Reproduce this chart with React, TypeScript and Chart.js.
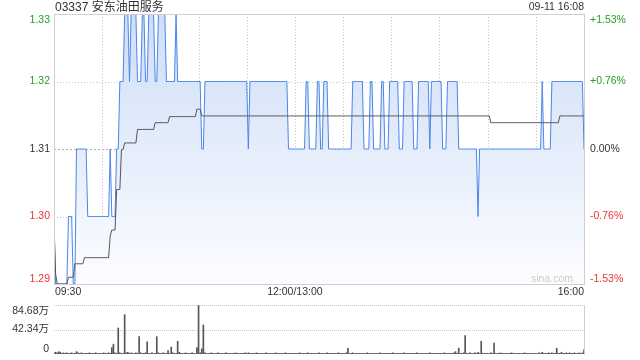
import React, { useEffect, useRef } from "react";
import { Chart, registerables } from "chart.js";

Chart.register(...registerables);

// ---------- data ----------
const titleCode = "03337";
const titleName = "安东油田服务";
const stamp = "09-11 16:08";
const prevClose = 1.31;
const priceMin = 1.29;
const priceMax = 1.33;
const priceTicks = [1.33, 1.32, 1.31, 1.3, 1.29];
const priceTickLabels = ["1.33", "1.32", "1.31", "1.30", "1.29"];
const pctTickLabels = ["+1.53%", "+0.76%", "0.00%", "-0.76%", "-1.53%"];
const timeLabels = ["09:30", "12:00/13:00", "16:00"];
const timeLabelMinutes = [0, 150, 330];
const gridMinutes = [30, 60, 90, 120, 150, 180, 210, 240, 270, 300];
const lastMinute = 330;

// price per minute, as runs of [price, number of minutes]
const priceRuns: [number, number][] = [
  [1.3, 1], [1.29, 8], [1.3, 3], [1.29, 2], [1.31, 7], [1.3, 14], [1.31, 1], [1.3, 3],
  [1.31, 2], [1.32, 3], [1.33, 3], [1.32, 1], [1.33, 4], [1.32, 3], [1.33, 2], [1.32, 2],
  [1.33, 4], [1.32, 2], [1.33, 5], [1.32, 6], [1.33, 1], [1.32, 15], [1.31, 2], [1.32, 27],
  [1.31, 1], [1.32, 24], [1.31, 11], [1.32, 2], [1.31, 5], [1.32, 2], [1.31, 2], [1.32, 3],
  [1.31, 15], [1.32, 7], [1.31, 4], [1.32, 2], [1.31, 5], [1.32, 2], [1.31, 3], [1.32, 6],
  [1.31, 3], [1.32, 6], [1.31, 3], [1.32, 7], [1.31, 1], [1.32, 7], [1.31, 3], [1.32, 7],
  [1.31, 12], [1.3, 1], [1.31, 39], [1.32, 1], [1.31, 5], [1.32, 20], [1.31, 1],
];

// average price per minute, as runs of [avg, number of minutes]
const avgRuns: [number, number][] = [
  [1.2985, 1], [1.2915, 1], [1.29, 7], [1.291, 4], [1.293, 6], [1.2939, 16], [1.2971, 1],
  [1.298, 3], [1.304, 3], [1.3099, 2], [1.3109, 8], [1.3129, 11], [1.3139, 9], [1.3148, 17],
  [1.3159, 3], [1.3149, 180], [1.3139, 43], [1.3149, 16],
];

// volume per minute (万)
const volumes = [
  2, 3, 2, 4, 3, 1, 2, 1, 2, 1,
  1, 2, 1, 1, 4, 2, 1, 2, 1, 1,
  1, 1, 2, 1, 1, 1, 2, 1, 1, 1,
  1, 2, 1, 1, 2, 1, 11, 17, 2, 1,
  45, 2, 1, 1, 68, 2, 3, 1, 2, 1,
  1, 2, 1, 30, 2, 1, 1, 2, 21, 1,
  1, 2, 1, 1, 30, 2, 1, 1, 2, 1,
  1, 6, 1, 12, 2, 1, 1, 22, 3, 1,
  1, 1, 2, 1, 1, 1, 2, 1, 1, 11,
  84.68, 2, 9, 50, 2, 1, 1, 1, 2, 1,
  1, 1, 2, 1, 1, 1, 1, 2, 1, 1,
  1, 1, 1, 2, 1, 1, 1, 1, 1, 2,
  1, 2, 1, 1, 1, 1, 2, 1, 1, 1,
  1, 1, 2, 1, 1, 1, 1, 1, 2, 1,
  1, 1, 1, 1, 2, 1, 1, 1, 1, 1,
  1, 1, 1, 2, 1, 1, 1, 1, 2, 1,
  1, 1, 1, 1, 1, 2, 1, 1, 1, 1,
  2, 1, 1, 1, 1, 1, 1, 2, 1, 1,
  1, 1, 2, 10, 1, 1, 2, 1, 1, 1,
  1, 1, 1, 1, 1, 2, 1, 1, 1, 1,
  1, 1, 1, 2, 1, 1, 1, 1, 1, 1,
  1, 2, 1, 1, 1, 1, 1, 1, 2, 1,
  1, 1, 1, 1, 1, 1, 2, 1, 1, 1,
  1, 1, 1, 1, 2, 1, 1, 1, 1, 1,
  1, 1, 1, 2, 1, 1, 1, 1, 1, 2,
  4, 1, 10, 1, 1, 2, 32, 1, 1, 2,
  1, 1, 2, 1, 3, 1, 22, 1, 1, 1,
  1, 1, 2, 1, 19, 1, 1, 1, 2, 1,
  1, 1, 1, 1, 1, 2, 1, 1, 1, 1,
  1, 1, 1, 2, 1, 1, 1, 1, 1, 1,
  1, 1, 2, 1, 3, 1, 1, 1, 2, 1,
  2, 1, 1, 10, 1, 1, 3, 1, 1, 2,
  1, 2, 1, 1, 2, 1, 1, 2, 1, 2,
  7,
];
const volTicks = [84.68, 42.34, 0];
const volTickLabels = ["84.68万", "42.34万", "0"];

// ---------- helpers ----------
function expandRuns(runs: [number, number][]): number[] {
  const out: number[] = [];
  for (const [v, n] of runs) for (let k = 0; k < n; k++) out.push(v);
  return out;
}

const FONT = "Arial, 'Liberation Sans', 'Noto Sans CJK SC', sans-serif";
const GREEN = "#22a022";
const RED = "#ee3333";
const DARK = "#333333";

function tickColor(p: number) {
  if (p > prevClose + 1e-9) return GREEN;
  if (p < prevClose - 1e-9) return RED;
  return DARK;
}

function hLine(ctx: CanvasRenderingContext2D, x1: number, x2: number, y: number) {
  ctx.beginPath();
  ctx.moveTo(x1, y);
  ctx.lineTo(x2, y);
  ctx.stroke();
}
function vLine(ctx: CanvasRenderingContext2D, x: number, y1: number, y2: number) {
  ctx.beginPath();
  ctx.moveTo(x, y1);
  ctx.lineTo(x, y2);
  ctx.stroke();
}

const mainDecor = {
  id: "mainDecor",
  beforeDatasetsDraw(chart: any) {
    const { ctx, chartArea: a, scales } = chart;
    const x = scales.x;
    const y = scales.y;
    ctx.save();
    ctx.lineWidth = 1;
    ctx.strokeStyle = "#c4c4c4";
    ctx.setLineDash([1, 2]);
    for (const m of gridMinutes) {
      const px = Math.round(x.getPixelForValue(m)) + 0.5;
      vLine(ctx, px, a.top, a.bottom);
    }
    for (const p of priceTicks) {
      if (p === priceMax || p === priceMin || p === prevClose) continue;
      const py = Math.round(y.getPixelForValue(p)) + 0.5;
      hLine(ctx, a.left, a.right, py);
    }
    ctx.strokeStyle = "#b0b0b0";
    ctx.setLineDash([2, 2]);
    hLine(ctx, a.left, a.right, Math.round(y.getPixelForValue(prevClose)) + 0.5);
    ctx.restore();
  },
  afterDatasetsDraw(chart: any) {
    const { ctx, chartArea: a, scales } = chart;
    const x = scales.x;
    const y = scales.y;
    ctx.save();
    // frame
    ctx.strokeStyle = "#cfcfcf";
    ctx.lineWidth = 1;
    ctx.setLineDash([]);
    const l = Math.round(a.left) + 0.5;
    const r = Math.round(a.right) + 0.5;
    const t = Math.round(a.top) + 0.5;
    const b = Math.round(a.bottom) + 0.5;
    ctx.strokeRect(l, t, r - l, b - t);

    // watermark
    ctx.font = `10.5px ${FONT}`;
    ctx.fillStyle = "#cccccc";
    ctx.textAlign = "right";
    ctx.textBaseline = "middle";
    ctx.fillText("sina.com", a.right - 11, a.bottom - 5);

    // price / percent labels
    ctx.font = `10.5px ${FONT}`;
    priceTicks.forEach((p, i) => {
      const py = y.getPixelForValue(p);
      let base: CanvasTextBaseline = "middle";
      let yy = py;
      if (i === 0) { base = "top"; yy = a.top + 1; }
      if (i === priceTicks.length - 1) { base = "bottom"; yy = a.bottom; }
      ctx.textBaseline = base;
      ctx.fillStyle = tickColor(p);
      ctx.textAlign = "right";
      ctx.fillText(priceTickLabels[i], a.left - 4, yy);
      ctx.textAlign = "left";
      ctx.fillText(pctTickLabels[i], a.right + 6, yy);
    });

    // time labels
    ctx.fillStyle = DARK;
    ctx.textBaseline = "middle";
    timeLabels.forEach((s, i) => {
      const m = timeLabelMinutes[i];
      ctx.textAlign = i === 0 ? "left" : i === timeLabels.length - 1 ? "right" : "center";
      ctx.fillText(s, x.getPixelForValue(m) + (i === 0 ? 1 : 0), a.bottom + 8.5);
    });

    // title and stamp
    ctx.font = `12px ${FONT}`;
    ctx.textAlign = "left";
    ctx.fillStyle = DARK;
    ctx.fillText(`${titleCode} ${titleName}`, a.left + 1, 7.5);
    ctx.font = `10.5px ${FONT}`;
    ctx.textAlign = "right";
    ctx.fillText(stamp, a.right, 7.5);
    ctx.restore();
  },
};

const volDecor = {
  id: "volDecor",
  beforeDatasetsDraw(chart: any) {
    const { ctx, chartArea: a, scales } = chart;
    const y = scales.y;
    ctx.save();
    ctx.lineWidth = 1;
    ctx.strokeStyle = "#c4c4c4";
    ctx.setLineDash([1, 1]);
    for (const v of volTicks) {
      if (v === 0) continue;
      hLine(ctx, a.left, a.right, Math.round(y.getPixelForValue(v)) + 0.5);
    }
    ctx.setLineDash([]);
    ctx.strokeStyle = "#cfcfcf";
    const r = Math.round(a.right) + 0.5;
    vLine(ctx, r, Math.round(a.top), a.bottom + 1);
    ctx.restore();
  },
  afterDatasetsDraw(chart: any) {
    const { ctx, chartArea: a, scales } = chart;
    const y = scales.y;
    ctx.save();
    ctx.font = `10.5px ${FONT}`;
    ctx.fillStyle = DARK;
    ctx.textAlign = "right";
    volTicks.forEach((v, i) => {
      let yy = y.getPixelForValue(v);
      let base: CanvasTextBaseline = "middle";
      if (i === 0) { base = "top"; yy = a.top + 1; }
      if (i === volTicks.length - 1) { base = "bottom"; yy = a.bottom; }
      ctx.textBaseline = base;
      ctx.fillText(volTickLabels[i], a.left - 5, yy);
    });
    ctx.restore();
  },
};

export default function App() {
  const mainRef = useRef<HTMLCanvasElement | null>(null);
  const volRef = useRef<HTMLCanvasElement | null>(null);

  useEffect(() => {
    const prices = expandRuns(priceRuns);
    const avgs = expandRuns(avgRuns);
    const priceData = prices.map((v, i) => ({ x: i, y: v }));
    const avgData = avgs.map((v, i) => ({ x: i, y: v }));
    const volData = volumes.map((v, i) => ({ x: i, y: v }));

    const main = new Chart(mainRef.current as HTMLCanvasElement, {
      type: "line",
      data: {
        datasets: [
          {
            data: avgData,
            borderColor: "#555555",
            borderWidth: 1,
            pointRadius: 0,
            fill: false,
            tension: 0,
          },
          {
            data: priceData,
            borderColor: "#4a86e8",
            borderWidth: 1,
            pointRadius: 0,
            tension: 0,
            fill: "start",
            backgroundColor: (c: any) => {
              const ch = c.chart;
              const a = ch.chartArea;
              if (!a) return "rgba(220,230,250,0.7)";
              const g = ch.ctx.createLinearGradient(0, a.top, 0, a.bottom);
              g.addColorStop(0, "rgb(206,221,248)");
              g.addColorStop(0.5, "rgb(229,237,251)");
              g.addColorStop(1, "rgb(252,253,255)");
              return g;
            },
          },
        ],
      },
      options: {
        animation: false,
        responsive: false,
        devicePixelRatio: 1,
        events: [],
        layout: { padding: { left: 54, right: 56, top: 14, bottom: 16 } },
        plugins: { legend: { display: false }, tooltip: { enabled: false } },
        scales: {
          x: { type: "linear", min: 0, max: lastMinute, display: false },
          y: { type: "linear", min: priceMin, max: priceMax, display: false },
        },
      },
      plugins: [mainDecor],
    } as any);

    const vol = new Chart(volRef.current as HTMLCanvasElement, {
      type: "bar",
      data: {
        datasets: [
          {
            data: volData,
            backgroundColor: "#555555",
            borderWidth: 0,
            barThickness: 1,
          },
        ],
      },
      options: {
        animation: false,
        responsive: false,
        devicePixelRatio: 1,
        events: [],
        layout: { padding: { left: 54, right: 56, top: 5, bottom: 6 } },
        plugins: { legend: { display: false }, tooltip: { enabled: false } },
        scales: {
          x: { type: "linear", min: 0, max: lastMinute, offset: false, display: false },
          y: { type: "linear", min: 0, max: volTicks[0], display: false },
        },
      },
      plugins: [volDecor],
    } as any);

    return () => {
      main.destroy();
      vol.destroy();
    };
  }, []);

  return (
    <div style={{ position: "fixed", left: 0, top: 0, width: 640, height: 360, background: "#fff" }}>
      <canvas ref={mainRef} width={640} height={300} style={{ position: "absolute", left: 0, top: 0, width: 640, height: 300 }} />
      <canvas ref={volRef} width={640} height={60} style={{ position: "absolute", left: 0, top: 300, width: 640, height: 60 }} />
    </div>
  );
}
